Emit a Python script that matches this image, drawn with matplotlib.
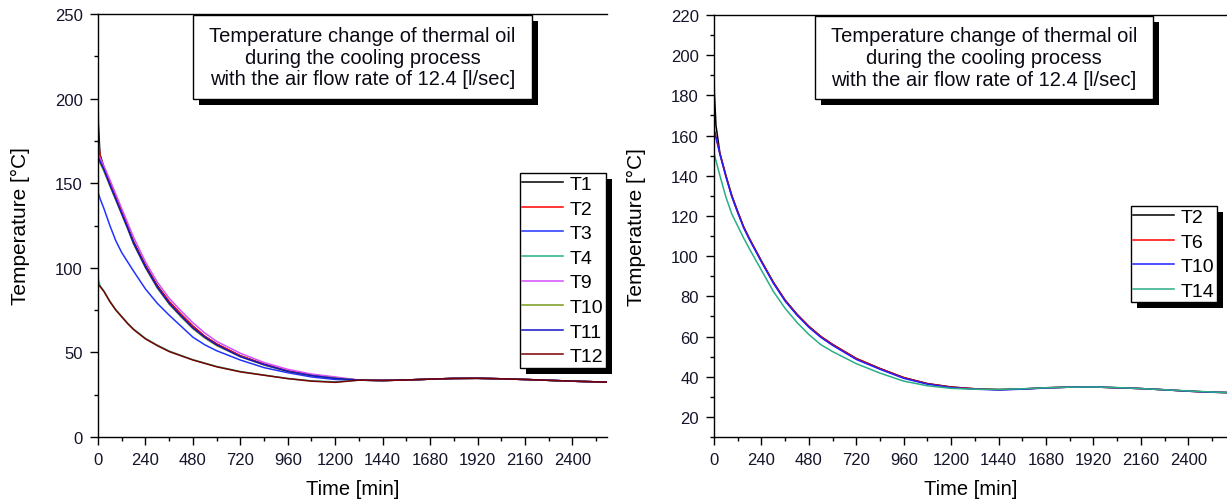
import matplotlib
matplotlib.use("Agg")
import matplotlib.pyplot as plt
from matplotlib.patches import Rectangle
from matplotlib.ticker import MultipleLocator, FixedLocator

plt.rcParams['font.family'] = ['Liberation Sans', 'DejaVu Sans']

# ---------------- data ----------------
t_left = [0, 2, 10, 30, 60, 90, 120, 150, 180, 240, 300, 360, 420, 480, 540, 600,
          720, 840, 960, 1080, 1200, 1320, 1440, 1560, 1680, 1800, 1920, 2040,
          2160, 2280, 2400, 2520, 2580]
tail_left = [33.6, 33.4, 33.7, 34.2, 34.6, 34.7, 34.4, 34.0, 33.5, 33.0, 32.6, 32.4]

T1_head = [205, 185, 167, 159.5, 150.5, 141.5, 133.5, 124.5, 115.5, 101.5, 89.5, 80,
           72.5, 65.5, 59.5, 55, 48, 43, 39, 36.5, 35]
T2_head = [200, 176, 166, 159, 150, 141, 133, 124, 115, 101, 89, 80, 72.5, 65.5,
           59.5, 55, 48, 43, 39, 36.5, 35]
T3_head = [181, 144, 141, 135, 125, 116, 109, 103.5, 98, 87.5, 79, 72, 65.5, 59,
           54.5, 51, 45.5, 41, 38, 35.5, 34]
T4_head = [100, 93, 89.5, 86.3, 80.3, 75.3, 71.3, 67.3, 63.8, 58.3, 54.3, 50.8, 48.2,
           45.7, 43.7, 41.7, 38.7, 36.6, 34.6, 33.2, 32.6]
T9_head = [168, 167, 165, 160, 152, 143.5, 135, 126.5, 118, 103.5, 91.5, 82, 74.5,
           67.5, 61.5, 56.5, 49.5, 44, 40, 37.2, 35.5]
T10_head = [165, 164, 162, 157, 148.5, 140, 131.5, 123, 114, 100, 88, 78.5, 71, 64,
            58.5, 54, 47.5, 42.5, 38.7, 36.3, 34.8]
T11_head = [167, 165, 163, 158, 149, 140.5, 132, 123.5, 114.5, 100.5, 88.5, 79, 71.5,
            64.5, 59, 54.5, 47.5, 42.8, 38.8, 36.3, 34.6]
T12_head = [91.5, 90, 89, 86, 80, 75, 71, 67, 63.5, 58, 54, 50.5, 48, 45.5, 43.5,
            41.5, 38.5, 36.5, 34.5, 33, 32.3]

left_names = ['T1', 'T2', 'T3', 'T4', 'T9', 'T10', 'T11', 'T12']
left_heads = [T1_head, T2_head, T3_head, T4_head, T9_head, T10_head, T11_head, T12_head]
left_colors = ['#000000', '#ff0000', '#2233ff', '#2aae86', '#d64dff', '#789a1c',
               '#1414c8', '#7a0000']

t_right = [0, 2, 10, 30, 60, 90, 120, 150, 180, 240, 300, 360, 420, 480, 540, 600,
           720, 840, 960, 1080, 1200, 1320, 1440, 1560, 1680, 1800, 1920, 2040,
           2160, 2280, 2400, 2520, 2600]
R_T2 = [193, 181, 165, 151.2, 140.2, 130.2, 122.2, 114.6, 108.6, 97.6, 87.1, 78.1,
        71.1, 65.1, 60.1, 56.1, 49.1, 44.1, 39.6, 36.6, 34.9, 34.0, 33.6, 33.9, 34.5,
        34.8, 34.9, 34.5, 34.1, 33.5, 32.8, 32.3, 32.1]
R_T6 = [163, 162.5, 159.5, 151, 140, 130, 122, 114.5, 108.5, 97.5, 87, 78, 71, 65,
        60, 56, 49, 44, 39.5, 36.5, 34.8, 34.0, 33.6, 33.9, 34.5, 34.8, 34.9, 34.5,
        34.1, 33.5, 32.8, 32.3, 32.1]
R_T10 = [162.5, 162, 159, 150.6, 139.6, 129.6, 121.6, 114.1, 108.1, 97.1, 86.6, 77.6,
         70.6, 64.6, 59.6, 55.6, 48.6, 43.7, 39.2, 36.3, 34.6, 33.8, 33.4, 33.8, 34.4,
         34.8, 34.9, 34.5, 34.1, 33.5, 32.8, 32.3, 32.1]
R_T14 = [151, 150.5, 147.5, 140, 129.5, 121, 115, 109, 103.5, 93, 82.5, 74, 67, 61,
         56, 52.5, 46.5, 41.8, 37.8, 35.5, 34.2, 33.8, 33.7, 34.0, 34.5, 34.8, 34.9,
         34.6, 34.1, 33.5, 32.9, 32.4, 32.1]
right_names = ['T2', 'T6', 'T10', 'T14']
right_series = [R_T2, R_T6, R_T10, R_T14]
right_colors = ['#000000', '#ff0000', '#2020ff', '#2aae86']

title_lines = "Temperature change of thermal oil\nduring the cooling process\nwith the air flow rate of 12.4 [l/sec]"

# ---------------- figure ----------------
W, H = 1227, 502
fig = plt.figure(figsize=(W / 100, H / 100), dpi=100)


def fx(px):
    return px / W


def fy(py):
    return 1 - py / H


axL = fig.add_axes([fx(98), fy(438), fx(607 - 98), (438 - 15) / H])
axR = fig.add_axes([fx(714), fy(438), fx(W - 714), (438 - 16) / H])

for t_head, c, n in zip(left_heads, left_colors, left_names):
    axL.plot(t_left, t_head + tail_left, color=c, lw=1.1, label=n)
for s, c, n in zip(right_series, right_colors, right_names):
    axR.plot(t_right, s, color=c, lw=1.1, label=n)

axL.set_xlim(0, 2575)
axL.set_ylim(0, 250)
axL.yaxis.set_major_locator(MultipleLocator(50))
axL.yaxis.set_minor_locator(MultipleLocator(25))

axR.set_xlim(0, 2596)
axR.set_ylim(10, 220)
axR.yaxis.set_major_locator(FixedLocator(list(range(20, 221, 20))))
axR.yaxis.set_minor_locator(MultipleLocator(10))

for ax in (axL, axR):
    ax.xaxis.set_major_locator(MultipleLocator(240))
    ax.xaxis.set_minor_locator(MultipleLocator(120))
    ax.spines['right'].set_visible(False)
    for sp in ax.spines.values():
        sp.set_linewidth(1.0)
    ax.tick_params(which='major', direction='out', length=6, width=1,
                   labelsize=12, labelcolor='#14142a')
    ax.tick_params(which='minor', direction='out', length=3, width=1)
    ax.tick_params(axis='x', which='major', pad=4.5)
    ax.tick_params(axis='y', which='major', pad=5)
    ax.set_xlabel('Time [min]', fontsize=14.5, labelpad=9)
    ax.set_ylabel('Temperature [°C]', fontsize=15, labelpad=18)

# title boxes
boxes = [(axL, 193, 16, 532, 100), (axR, 815, 17, 1153, 100)]
for ax, x0, y0, x1, y1 in boxes:
    sh = Rectangle((fx(x0 + 6), fy(y1 + 6)), fx(x1 - x0), (y1 - y0) / H,
                   transform=fig.transFigure, facecolor='black', edgecolor='none',
                   zorder=6, clip_on=False)
    ax.add_patch(sh)
    bx = Rectangle((fx(x0), fy(y1)), fx(x1 - x0), (y1 - y0) / H,
                   transform=fig.transFigure, facecolor='white', edgecolor='black',
                   lw=1.0, zorder=7, clip_on=False)
    ax.add_patch(bx)
    ax.text(fx((x0 + x1) / 2), fy((y0 + y1) / 2), title_lines, transform=fig.transFigure,
            ha='center', va='center', fontsize=14.5, linespacing=1.18, zorder=8,
            color='#0a0a14')

# legends
leg_kw = dict(loc='upper right', bbox_transform=fig.transFigure, fontsize=14,
              frameon=True, fancybox=False, edgecolor='black', framealpha=1,
              handlelength=2.1, handletextpad=0.35, labelspacing=0.36,
              borderpad=0.12, borderaxespad=0)
legL = axL.legend(bbox_to_anchor=(fx(606), fy(174)), **leg_kw)
legR = axR.legend(bbox_to_anchor=(fx(1217), fy(207)), **leg_kw)
for leg in (legL, legR):
    leg.get_frame().set_linewidth(1.0)
    leg.set_zorder(9)

fig.canvas.draw()
inv = fig.transFigure.inverted()
for ax, leg in ((axL, legL), (axR, legR)):
    bb = leg.get_window_extent()
    (a0, b0) = inv.transform((bb.x0 + 6, bb.y0 - 6))
    (a1, b1) = inv.transform((bb.x1 + 6, bb.y1 - 6))
    ax.add_patch(Rectangle((a0, b0), a1 - a0, b1 - b0, transform=fig.transFigure,
                           facecolor='black', edgecolor='none', zorder=8.5,
                           clip_on=False))

fig.savefig('out.png', dpi=100)
